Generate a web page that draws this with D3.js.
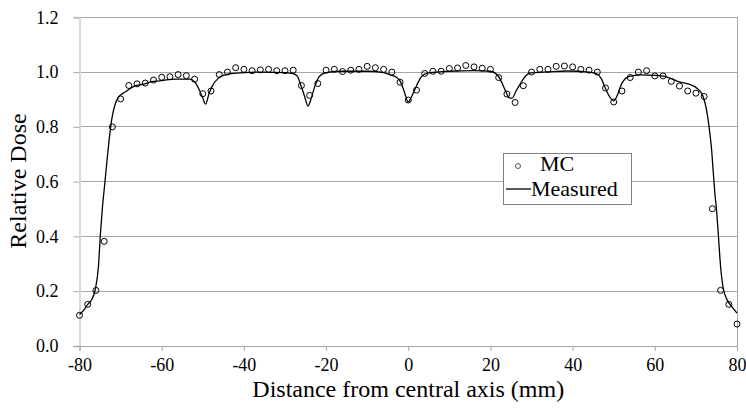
<!DOCTYPE html>
<html>
<head>
<meta charset="utf-8">
<script src="https://cdn.jsdelivr.net/npm/d3@7"></script>
<style>
  html, body { margin: 0; padding: 0; background: #fff; }
  svg { display: block; }
</style>
</head>
<body>
<svg id="chart" width="746" height="408"></svg>
<script>
// ---- Data ----
const mcX = [-80,-78,-76,-74,-72,-70,-68,-66,-64,-62,-60,-58,-56,-54,-52,-50,-48,-46,-44,-42,-40,-38,-36,-34,-32,-30,-28,-26,-24,-22,-20,-18,-16,-14,-12,-10,-8,-6,-4,-2,0,2,4,6,8,10,12,14,16,18,20,22,24,26,28,30,32,34,36,38,40,42,44,46,48,50,52,54,56,58,60,62,64,66,68,70,72,74,76,78,80];
const mcY = [0.112,0.152,0.203,0.382,0.800,0.902,0.951,0.957,0.960,0.971,0.981,0.983,0.991,0.987,0.974,0.921,0.931,0.991,1.000,1.016,1.010,1.005,1.008,1.010,1.005,1.005,1.007,0.951,0.915,0.958,1.007,1.010,1.002,1.007,1.010,1.021,1.016,1.010,1.000,0.963,0.898,0.934,0.995,1.003,1.003,1.013,1.015,1.024,1.019,1.014,1.010,0.980,0.920,0.889,0.950,1.000,1.010,1.010,1.021,1.022,1.019,1.010,1.007,1.000,0.942,0.891,0.931,0.980,1.000,1.005,0.986,0.986,0.966,0.949,0.931,0.923,0.911,0.501,0.203,0.152,0.080];

const measX = [-80,-79,-78,-77,-76.2,-75.4,-74.9,-74.4,-73.9,-73.3,-72.8,-72.2,-71.4,-70.6,-68.9,-66.5,-64.6,-62.4,-60.5,-56.4,-53.2,-52,-51,-50,-49.3,-48.5,-47.8,-46.2,-44.5,-42.6,-36,-30,-28,-27,-26.2,-25.2,-24.4,-23.6,-22.8,-21.6,-20,-16,-10,-6,-4.4,-3,-1.9,-1,0,0.8,1.7,3.3,5,10,16,20,22,23.6,24.6,25.3,26.2,27.3,28.5,29.7,34,38.7,44,46,47,48,49,50,51,51.6,53.6,56.5,60,63,66,68.5,70.5,71.8,72.6,73.2,73.8,74.2,74.6,75.0,75.4,75.8,76.2,76.6,77.6,78.8,80];
const measY = [0.115,0.130,0.152,0.170,0.204,0.289,0.411,0.510,0.585,0.678,0.751,0.824,0.879,0.907,0.927,0.950,0.955,0.965,0.968,0.974,0.974,0.965,0.940,0.905,0.883,0.920,0.946,0.978,0.990,0.995,1.000,0.998,0.994,0.985,0.955,0.910,0.876,0.905,0.945,0.985,0.998,1.003,1.003,0.998,0.990,0.982,0.965,0.930,0.891,0.910,0.940,0.985,0.997,1.003,1.005,1.003,0.983,0.934,0.906,0.905,0.930,0.958,0.985,0.997,1.001,1.004,1.000,0.993,0.975,0.940,0.910,0.895,0.920,0.946,0.983,0.990,0.988,0.982,0.964,0.955,0.938,0.909,0.861,0.800,0.720,0.640,0.560,0.500,0.420,0.330,0.260,0.215,0.168,0.143,0.120];

const xTicks = [-80,-60,-40,-20,0,20,40,60,80];
const yTicks = [0.0,0.2,0.4,0.6,0.8,1.0,1.2];
const legendLabels = ["MC","Measured"];
const xTitle = "Distance from central axis (mm)";
const yTitle = "Relative Dose";

const FONT = "'Liberation Serif', 'Times New Roman', serif";

// ---- Scales ----
const svg = d3.select("#chart");
const x = d3.scaleLinear().domain([-80, 80]).range([79.5, 737]);
const y = d3.scaleLinear().domain([0, 1.2]).range([346, 17.3]);

const gridColor = "#a6a6a6";

// gridlines
svg.append("g").selectAll("line").data(yTicks).join("line")
  .attr("x1", x(-80)).attr("x2", x(80))
  .attr("y1", d => y(d)).attr("y2", d => y(d))
  .attr("stroke", gridColor).attr("stroke-width", 1)
  .attr("shape-rendering", "crispEdges");

// right border
svg.append("line")
  .attr("x1", x(80)).attr("x2", x(80)).attr("y1", y(1.2)).attr("y2", y(0))
  .attr("stroke", gridColor).attr("stroke-width", 1).attr("shape-rendering", "crispEdges");

// Y axis
const yAxis = d3.axisLeft(y).tickValues(yTicks).tickFormat(d3.format(".1f")).tickSize(6).tickPadding(15);
const gy = svg.append("g").attr("transform", `translate(${x(-80)},0)`).call(yAxis);
gy.select(".domain").attr("stroke", "#d9d9d9").attr("stroke-width", 2);
gy.selectAll(".tick line").attr("stroke", gridColor);
gy.selectAll(".tick text").style("font-family", FONT).style("font-size", "18px").attr("fill", "#000");

// X axis
const xAxis = d3.axisBottom(x).tickValues(xTicks).tickFormat(d => String(d)).tickSize(5).tickPadding(7);
const gx = svg.append("g").attr("transform", `translate(0,${y(0)})`).call(xAxis);
gx.select(".domain").attr("stroke", gridColor).attr("stroke-width", 1);
gx.selectAll(".tick line").attr("stroke", gridColor);
gx.selectAll(".tick text").style("font-family", FONT).style("font-size", "18px").attr("fill", "#000");

// Measured line
const measData = measX.map((d, i) => [d, measY[i]]);
const line = d3.line().x(d => x(d[0])).y(d => y(d[1])).curve(d3.curveMonotoneX);
svg.append("path").datum(measData)
  .attr("d", line).attr("fill", "none").attr("stroke", "#000").attr("stroke-width", 1.3);

// MC markers
const mcData = mcX.map((d, i) => [d, mcY[i]]);
svg.append("g").selectAll("circle").data(mcData).join("circle")
  .attr("cx", d => x(d[0])).attr("cy", d => y(d[1])).attr("r", 3)
  .attr("fill", "none").attr("stroke", "#000").attr("stroke-width", 1);

// Titles
svg.append("text").attr("x", (x(-80) + x(80)) / 2).attr("y", 397)
  .attr("text-anchor", "middle").style("font-family", FONT).style("font-size", "24px").text(xTitle);
svg.append("text").attr("transform", `translate(26,181) rotate(-90)`)
  .attr("text-anchor", "middle").style("font-family", FONT).style("font-size", "24px").text(yTitle);

// Legend
const lg = svg.append("g");
lg.append("rect").attr("x", 503).attr("y", 153).attr("width", 128).attr("height", 51)
  .attr("fill", "#fff").attr("stroke", "#7f7f7f").attr("stroke-width", 1).attr("shape-rendering", "crispEdges");
lg.append("circle").attr("cx", 518).attr("cy", 166).attr("r", 2.5)
  .attr("fill", "none").attr("stroke", "#555").attr("stroke-width", 1);
lg.append("text").attr("x", 540).attr("y", 171).style("font-family", FONT).style("font-size", "22px").text(legendLabels[0]);
lg.append("line").attr("x1", 506).attr("x2", 531).attr("y1", 189).attr("y2", 189)
  .attr("stroke", "#000").attr("stroke-width", 1.3);
lg.append("text").attr("x", 531).attr("y", 196).style("font-family", FONT).style("font-size", "22px").text(legendLabels[1]);
</script>
</body>
</html>
